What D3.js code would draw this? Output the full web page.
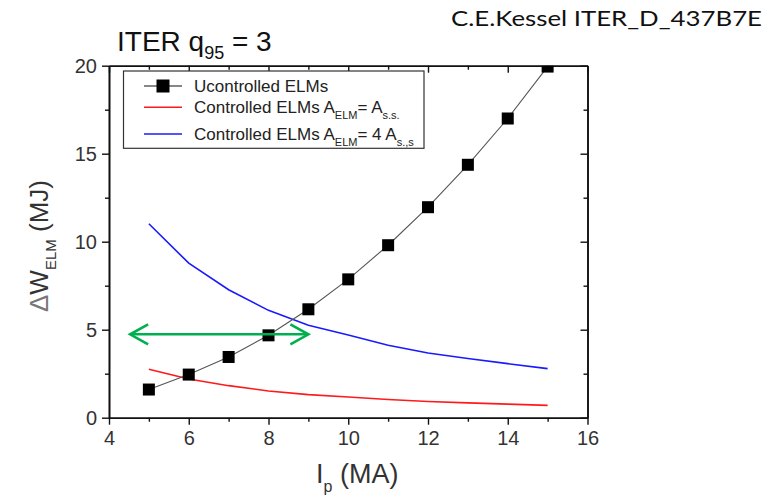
<!DOCTYPE html>
<html>
<head>
<meta charset="utf-8">
<script src="https://cdn.jsdelivr.net/npm/d3@7"></script>
<style>
  html, body { margin: 0; padding: 0; background: #fff; }
  svg { display: block; }
  text { font-family: "Liberation Sans", Arial, sans-serif; }
</style>
</head>
<body>
<svg id="chart" width="783" height="495"></svg>
<script>
// ---- data ----
const ipValues = [5, 6, 7, 8, 9, 10, 11, 12, 13, 14, 15];
const uncontrolled = [1.6, 2.45, 3.45, 4.68, 6.16, 7.86, 9.8, 11.96, 14.37, 17.0, 19.95];
const controlledSS = [2.75, 2.2, 1.82, 1.52, 1.31, 1.18, 1.03, 0.92, 0.84, 0.77, 0.70];
const controlled4SS = [11.02, 8.78, 7.27, 6.1, 5.25, 4.7, 4.12, 3.68, 3.36, 3.07, 2.79];
const xMajorTicks = [4, 6, 8, 10, 12, 14, 16];
const xMinorTicks = [5, 7, 9, 11, 13, 15];
const yMajorTicks = [0, 5, 10, 15, 20];
const yMinorTicks = [2.5, 7.5, 12.5, 17.5];
const arrowRange = [4.53, 9.0];
const arrowLevel = 4.74;

const svg = d3.select("#chart");
const L = 109, R = 587.5, T = 65.7, B = 417.7;
const x = d3.scaleLinear().domain([4, 16]).range([L, R]);
const y = d3.scaleLinear().domain([0, 20]).range([B, T]);

svg.append("defs").append("clipPath").attr("id", "plotClip")
  .append("rect").attr("x", L).attr("y", T).attr("width", R - L).attr("height", B - T);

// ---- axes ----
function styleAxis(g) {
  g.selectAll("path.domain").attr("stroke", "#111").attr("stroke-width", 1.6);
  g.selectAll(".tick line").attr("stroke", "#111").attr("stroke-width", 1.4);
  g.selectAll(".tick text").attr("fill", "#333").style("font-size", "20px")
    .style("font-family", "'Liberation Sans', Arial, sans-serif");
}
// bottom
svg.append("g").attr("transform", `translate(0,${B})`)
  .call(d3.axisBottom(x).tickValues(xMinorTicks).tickSize(4).tickFormat("").tickSizeOuter(0))
  .call(styleAxis);
svg.append("g").attr("transform", `translate(0,${B})`)
  .call(d3.axisBottom(x).tickValues(xMajorTicks).tickSize(7).tickPadding(6).tickSizeOuter(0).tickFormat(d3.format("d")))
  .call(styleAxis);
// left
svg.append("g").attr("transform", `translate(${L},0)`)
  .call(d3.axisLeft(y).tickValues(yMinorTicks).tickSize(4).tickFormat("").tickSizeOuter(0))
  .call(styleAxis);
svg.append("g").attr("transform", `translate(${L},0)`)
  .call(d3.axisLeft(y).tickValues(yMajorTicks).tickSize(7).tickPadding(5).tickSizeOuter(0).tickFormat(d3.format("d")))
  .call(styleAxis);
// top (inward)
svg.append("g").attr("transform", `translate(0,${T})`)
  .call(d3.axisBottom(x).tickValues(xMinorTicks).tickSize(4).tickFormat("").tickSizeOuter(0))
  .call(styleAxis);
svg.append("g").attr("transform", `translate(0,${T})`)
  .call(d3.axisBottom(x).tickValues(xMajorTicks).tickSize(7).tickFormat("").tickSizeOuter(0))
  .call(styleAxis);
// right (inward)
svg.append("g").attr("transform", `translate(${R},0)`)
  .call(d3.axisLeft(y).tickValues(yMinorTicks).tickSize(4).tickFormat("").tickSizeOuter(0))
  .call(styleAxis);
svg.append("g").attr("transform", `translate(${R},0)`)
  .call(d3.axisLeft(y).tickValues(yMajorTicks).tickSize(7).tickFormat("").tickSizeOuter(0))
  .call(styleAxis);

// ---- data ----
const plot = svg.append("g").attr("clip-path", "url(#plotClip)");
const line = (vals) => d3.line().x((d, i) => x(ipValues[i])).y(d => y(d))(vals);

plot.append("path").attr("d", line(controlledSS)).attr("fill", "none")
  .attr("stroke", "#ff1a1a").attr("stroke-width", 1.6);
plot.append("path").attr("d", line(controlled4SS)).attr("fill", "none")
  .attr("stroke", "#1a1aff").attr("stroke-width", 1.6);
plot.append("path").attr("d", line(uncontrolled)).attr("fill", "none")
  .attr("stroke", "#555").attr("stroke-width", 1.1);
const ms = 12;
plot.selectAll("rect.m").data(uncontrolled).enter().append("rect")
  .attr("class", "m")
  .attr("x", (d, i) => x(ipValues[i]) - ms / 2)
  .attr("y", d => y(d) - ms / 2)
  .attr("width", ms).attr("height", ms)
  .attr("fill", "#000");

// green double arrow
const ax0 = x(arrowRange[0]), ax1 = x(arrowRange[1]), ay = y(arrowLevel);
const ag = svg.append("g").attr("stroke", "#00b050").attr("stroke-width", 2.6)
  .attr("fill", "none").attr("stroke-linecap", "butt");
ag.append("line").attr("x1", ax0).attr("x2", ax1).attr("y1", ay).attr("y2", ay);
ag.append("path").attr("d", `M${ax0 + 18},${ay - 10}L${ax0},${ay}L${ax0 + 18},${ay + 10}`);
ag.append("path").attr("d", `M${ax1 - 18},${ay - 10}L${ax1},${ay}L${ax1 - 18},${ay + 10}`);

// ---- legend ----
const lg = svg.append("g");
lg.append("rect").attr("x", 123.5).attr("y", 71).attr("width", 300.5).attr("height", 77.3)
  .attr("fill", "#fff").attr("stroke", "#333").attr("stroke-width", 1.2);
const rows = [86, 107.3, 134];
lg.append("line").attr("x1", 144).attr("x2", 182).attr("y1", rows[0]).attr("y2", rows[0])
  .attr("stroke", "#111").attr("stroke-width", 1.2);
lg.append("rect").attr("x", 163 - 6.5).attr("y", rows[0] - 6.5).attr("width", 13).attr("height", 13).attr("fill", "#000");
lg.append("line").attr("x1", 144).attr("x2", 182).attr("y1", rows[1]).attr("y2", rows[1])
  .attr("stroke", "#ff1a1a").attr("stroke-width", 1.6);
lg.append("line").attr("x1", 144).attr("x2", 182).attr("y1", rows[2]).attr("y2", rows[2])
  .attr("stroke", "#1a1aff").attr("stroke-width", 1.6);

const t1 = lg.append("text").attr("x", 194).attr("y", 91.5).attr("fill", "#222").style("font-size", "17px");
t1.text("Ucontrolled ELMs");
function legendText(yb, parts) {
  const t = lg.append("text").attr("x", 194).attr("y", yb).attr("fill", "#222").style("font-size", "17px");
  parts.forEach(p => {
    const ts = t.append("tspan").text(p.s);
    if (p.sub) ts.style("font-size", "11px").attr("dy", 6);
    else if (p.back) ts.attr("dy", -6);
  });
}
legendText(112.7, [{s: "Controlled ELMs A"}, {s: "ELM", sub: true}, {s: "= A", back: true}, {s: "s.s.", sub: true}]);
legendText(139.5, [{s: "Controlled ELMs A"}, {s: "ELM", sub: true}, {s: "= 4 A", back: true}, {s: "s.,s", sub: true}]);

// ---- titles ----
const title = svg.append("text").attr("x", 117).attr("y", 51).attr("fill", "#111").style("font-size", "28px");
title.append("tspan").text("ITER q");
title.append("tspan").text("95").style("font-size", "18px").attr("dy", 8);
title.append("tspan").text(" = 3").attr("dy", -8);

svg.append("text").attr("x", 451).attr("y", 26).attr("fill", "#111")
  .style("font-family", "Lato, 'Open Sans', sans-serif").style("font-size", "22px")
  .attr("textLength", 311).attr("lengthAdjust", "spacingAndGlyphs")
  .text("C.E.Kessel ITER_D_437B7E");

const xt = svg.append("text").attr("x", 316).attr("y", 482.5).attr("fill", "#333").style("font-size", "27px");
xt.append("tspan").text("I");
xt.append("tspan").text("p").style("font-size", "16px").attr("dy", 9);
xt.append("tspan").text(" (MA)").attr("dy", -9);

const yt = svg.append("text").attr("transform", "translate(48,312) rotate(-90)")
  .attr("fill", "#333").style("font-size", "26px");
yt.append("tspan").text("\u0394").attr("fill", "#777");
yt.append("tspan").text("W");
yt.append("tspan").text("ELM").style("font-size", "15px").attr("dy", 8);
yt.append("tspan").text(" (MJ)").attr("dy", -8);
</script>
</body>
</html>
